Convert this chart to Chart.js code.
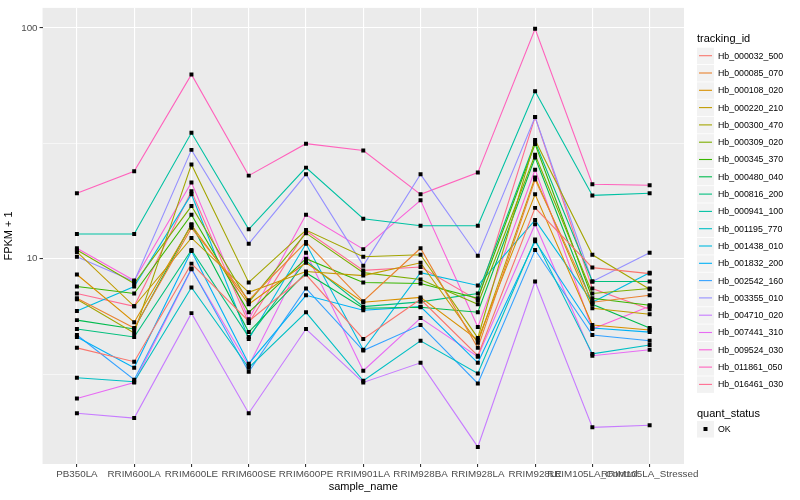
<!DOCTYPE html>
<html>
<head>
<meta charset="utf-8">
<script src="https://cdn.jsdelivr.net/npm/chart.js@4.4.0/dist/chart.umd.min.js"></script>
<style>
  html, body { margin: 0; padding: 0; background: #fff; }
</style>
</head>
<body>
<canvas id="myChart" width="800" height="500"></canvas>
<script>
// categories
const samples = ['PB350LA', 'RRIM600LA', 'RRIM600LE', 'RRIM600SE', 'RRIM600PE', 'RRIM901LA',
  'RRIM928BA', 'RRIM928LA', 'RRIM928LE', 'RRIM105LA_Control', 'RRIM105LA_Stressed'];

// one array per gene, FPKM + 1
const hb_000032_500 = [4.11, 3.58, 9.52, 5.36, 8.54, 4.49, 6.67, 3.80, 16.6, 9.15, 8.62];
const hb_000085_070 = [6.74, 5.01, 13.6, 6.61, 11.8, 6.54, 11.1, 4.11, 22.0, 6.48, 6.94];
const hb_000108_020 = [8.54, 5.31, 14.0, 6.35, 9.6, 6.48, 6.80, 4.45, 19.0, 5.16, 4.91];
const hb_000220_210 = [10.7, 6.22, 12.3, 7.15, 8.8, 8.45, 9.6, 4.32, 22.5, 6.10, 5.75];
const hb_000300_470 = [6.67, 4.77, 25.6, 7.89, 13.3, 10.2, 10.4, 4.54, 32.7, 10.4, 7.37];
const hb_000309_020 = [10.9, 7.81, 16.9, 6.48, 12.9, 8.7, 8.12, 6.35, 28.2, 7.07, 7.43];
const hb_000345_370 = [7.58, 7.07, 15.5, 5.86, 10.0, 7.89, 7.81, 6.74, 31.4, 6.74, 6.29];
const hb_000480_040 = [5.42, 4.96, 14.1, 4.81, 8.7, 6.1, 6.16, 5.86, 27.4, 6.35, 5.01];
const hb_000816_200 = [4.96, 4.58, 10.9, 4.58, 9.8, 6.2, 6.5, 7.07, 32.0, 7.97, 7.97];
const hb_000941_100 = [12.8, 12.8, 35.1, 13.4, 24.8, 14.9, 13.9, 13.9, 53.1, 18.8, 19.2];
const hb_001195_770 = [3.05, 2.93, 7.51, 3.37, 5.86, 2.96, 4.41, 3.18, 12.1, 3.87, 4.23];
const hb_001438_010 = [5.93, 7.58, 19.0, 4.49, 11.6, 4.03, 8.7, 7.66, 14.7, 6.48, 8.7];
const hb_001832_200 = [4.58, 3.37, 10.8, 3.51, 6.94, 5.98, 6.2, 3.54, 11.9, 5.01, 4.81];
const hb_002542_160 = [4.67, 2.99, 9.06, 3.24, 7.43, 4.0, 5.16, 2.88, 10.9, 4.67, 4.41];
const hb_003355_010 = [10.2, 7.97, 29.6, 11.6, 23.2, 9.33, 23.2, 10.3, 41.1, 7.97, 10.6];
const hb_004710_020 = [2.14, 2.04, 5.81, 2.14, 4.96, 2.91, 3.54, 1.53, 7.97, 1.86, 1.90];
const hb_007441_310 = [2.48, 2.91, 9.0, 3.44, 10.6, 3.27, 5.53, 3.76, 14.1, 3.80, 4.03];
const hb_009524_030 = [11.1, 8.05, 21.4, 5.47, 15.5, 11.0, 17.9, 5.06, 24.3, 4.96, 6.22];
const hb_011861_050 = [19.2, 23.9, 62.8, 22.9, 31.5, 29.4, 19.0, 23.6, 99.0, 21.0, 20.8];
const hb_016461_030 = [7.07, 6.22, 19.6, 5.26, 13.2, 8.9, 9.2, 6.61, 41.1, 7.43, 6.04];

const trackingIds = ['Hb_000032_500', 'Hb_000085_070', 'Hb_000108_020', 'Hb_000220_210', 'Hb_000300_470',
  'Hb_000309_020', 'Hb_000345_370', 'Hb_000480_040', 'Hb_000816_200', 'Hb_000941_100',
  'Hb_001195_770', 'Hb_001438_010', 'Hb_001832_200', 'Hb_002542_160', 'Hb_003355_010',
  'Hb_004710_020', 'Hb_007441_310', 'Hb_009524_030', 'Hb_011861_050', 'Hb_016461_030'];
const seriesValues = [hb_000032_500, hb_000085_070, hb_000108_020, hb_000220_210, hb_000300_470,
  hb_000309_020, hb_000345_370, hb_000480_040, hb_000816_200, hb_000941_100,
  hb_001195_770, hb_001438_010, hb_001832_200, hb_002542_160, hb_003355_010,
  hb_004710_020, hb_007441_310, hb_009524_030, hb_011861_050, hb_016461_030];

// ggplot hue palette, 20 levels
const colors = ['#F8766D', '#EA8331', '#D89000', '#C09B00', '#A3A500', '#7CAE00', '#39B600', '#00BB4E',
  '#00BF7D', '#00C1A3', '#00BFC4', '#00BAE0', '#00B0F6', '#35A2FF', '#9590FF', '#C77CFF',
  '#E76BF3', '#FA62DB', '#FF62BC', '#FF6C91'];

const yMajor = [10, 100];
const yMinor = [3.1623, 31.623];

const FONT = '"Liberation Sans", Arial, sans-serif';

// datasets
const datasets = seriesValues.map((vals, k) => ({
  label: trackingIds[k],
  data: vals.map((v, i) => ({ x: i, y: v })),
  borderColor: colors[k],
  backgroundColor: colors[k],
  borderWidth: 1.1,
  pointRadius: 0,
  tension: 0,
  order: 1
}));
// all points on top, as geom_point
const okPoints = [];
seriesValues.forEach(vals => vals.forEach((v, i) => okPoints.push({ x: i, y: v })));
datasets.push({
  label: 'OK',
  data: okPoints,
  showLine: false,
  pointStyle: 'rect',
  pointRadius: 2.8,
  pointBackgroundColor: '#000',
  pointBorderWidth: 0,
  order: 0
});

const panelBg = {
  id: 'panelBg',
  beforeDraw(chart) {
    const a = chart.chartArea;
    const c = chart.ctx;
    c.save();
    c.fillStyle = '#EBEBEB';
    c.fillRect(a.left, a.top, a.right - a.left, a.bottom - a.top);
    c.restore();
  }
};

// ggplot style legend at the right
const ggLegend = {
  id: 'ggLegend',
  afterDraw(chart) {
    const c = chart.ctx;
    const x0 = 697;
    c.save();
    c.textBaseline = 'middle';
    c.fillStyle = '#000';
    c.font = '11px ' + FONT;
    c.fillText('tracking_id', x0, 39);
    const step = 17.3;
    trackingIds.forEach((id, k) => {
      const cy = 55.7 + k * step;
      c.fillStyle = '#F2F2F2';
      c.fillRect(x0, cy - 8, 17, 16.5);
      c.strokeStyle = colors[k];
      c.lineWidth = 1.1;
      c.beginPath();
      c.moveTo(x0 + 2, cy);
      c.lineTo(x0 + 15, cy);
      c.stroke();
      c.fillStyle = '#000';
      c.font = '8.8px ' + FONT;
      c.fillText(id, x0 + 21, cy + 0.5);
    });
    c.font = '11px ' + FONT;
    c.fillText('quant_status', x0, 414);
    const oy = 429;
    c.fillStyle = '#F2F2F2';
    c.fillRect(x0, oy - 8, 17, 16.5);
    c.fillStyle = '#000';
    c.fillRect(x0 + 6.5, oy - 2, 4, 4);
    c.font = '8.8px ' + FONT;
    c.fillText('OK', x0 + 21, oy + 0.5);
    c.restore();
  }
};

const ctx = document.getElementById('myChart');
const chart = new Chart(ctx, {
  type: 'line',
  data: { datasets: datasets },
  plugins: [panelBg, ggLegend],
  options: {
    responsive: false,
    animation: false,
    devicePixelRatio: 1,
    layout: { padding: { left: 2, right: 116, top: 1, bottom: 6 } },
    plugins: { legend: { display: false }, tooltip: { enabled: false } },
    scales: {
      x: {
        type: 'linear',
        min: -0.6,
        max: samples.length - 0.4,
        afterBuildTicks: axis => { axis.ticks = samples.map((s, i) => ({ value: i })); },
        ticks: {
          callback: v => samples[v],
          autoSkip: false,
          maxRotation: 0,
          minRotation: 0,
          color: '#4D4D4D',
          font: { family: FONT, size: 9.8 },
          padding: 1
        },
        grid: { color: '#FFFFFF', lineWidth: 1.1, tickLength: 3, tickColor: '#333333' },
        border: { display: false },
        title: {
          display: true, text: 'sample_name', color: '#000',
          font: { family: FONT, size: 11 }, padding: { top: 0, bottom: 0 }
        }
      },
      y: {
        type: 'logarithmic',
        min: 1.29,
        max: 122,
        afterBuildTicks: axis => { axis.ticks = yMinor.concat(yMajor).sort((a, b) => a - b).map(v => ({ value: v })); },
        ticks: {
          callback: v => (yMajor.includes(v) ? String(v) : ''),
          color: '#4D4D4D',
          font: { family: FONT, size: 9.8 },
          padding: 2
        },
        grid: {
          color: '#FFFFFF',
          lineWidth: c => (c.tick && yMajor.includes(c.tick.value) ? 1.1 : 0.55),
          tickLength: 3,
          tickColor: c => (c.tick && yMajor.includes(c.tick.value) ? '#333333' : 'rgba(0,0,0,0)')
        },
        border: { display: false },
        title: {
          display: true, text: 'FPKM + 1', color: '#000',
          font: { family: FONT, size: 11 }, padding: { top: 0, bottom: 4 }
        }
      }
    }
  }
});
</script>
</body>
</html>
